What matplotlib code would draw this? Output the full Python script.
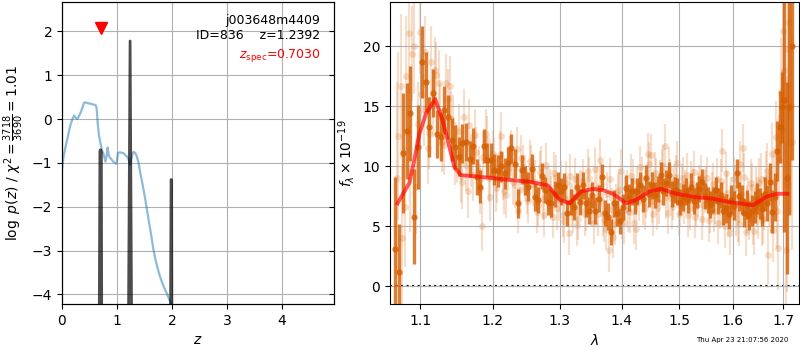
import numpy as np
import matplotlib
matplotlib.use("Agg")
import matplotlib.pyplot as plt
from matplotlib.ticker import NullLocator, NullFormatter

# --- redshift fit: coarse log p(z) curve ---
z_coarse = [0.00, 0.03, 0.07, 0.11, 0.15, 0.19, 0.22, 0.25, 0.28, 0.31, 0.34, 0.37,
            0.40, 0.43, 0.47, 0.52, 0.57, 0.61, 0.63, 0.65, 0.67, 0.70, 0.73, 0.76,
            0.79, 0.81, 0.83, 0.85, 0.87, 0.90, 0.93, 0.96, 0.99, 1.02, 1.05, 1.09,
            1.12, 1.15, 1.18, 1.21, 1.24, 1.27, 1.30, 1.33, 1.36, 1.39, 1.42, 1.46,
            1.50, 1.54, 1.58, 1.62, 1.66, 1.70, 1.74, 1.78, 1.82, 1.86, 1.90, 1.94,
            1.98, 2.00]
logpz_coarse = [-1.15, -0.85, -0.60, -0.38, -0.15, 0.00, 0.08, 0.03, 0.00, 0.07, 0.15, 0.25,
                0.37, 0.38, 0.36, 0.35, 0.33, 0.32, 0.25, -0.10, -0.35, -0.55, -0.72, -0.82,
                -0.97, -0.85, -0.65, -0.82, -0.88, -0.92, -0.97, -1.00, -1.02, -0.78, -0.76, -0.77,
                -0.78, -0.82, -0.85, -0.92, -1.05, -0.85, -0.75, -0.77, -0.85, -0.98, -1.20, -1.45,
                -1.72, -2.02, -2.33, -2.62, -2.95, -3.20, -3.40, -3.58, -3.72, -3.85, -3.96, -4.08,
                -4.20, -4.30]

# fine-grid refinement around the peaks
z_fine = [0.665, 0.690, 0.703, 0.716, 0.730, 1.190, 1.2392, 1.285,
          1.960, 1.985, 1.995, 2.005]
logpz_fine = [-9.0, -0.72, -0.70, -0.75, -9.0, -9.0, 1.78, -9.0,
              -9.0, -1.38, -1.40, -9.0]

z_spec = 0.7030
z_best = 1.2392
chi2_num, chi2_den = 3718, 3690

# --- binned G141 spectrum ---
wave_bin = np.arange(131) * 0.005 + 1.067
flux_bin = [3.1, 1.2, 11.1, 12.9, 14.4, 5.8, 11.6, 18.7, 17.0, 13.3,
            16.1, 12.7, 12.4, 14.7, 14.1, 12.2, 11.6, 10.8, 11.9, 12.0,
            10.6, 11.7, 9.1, 8.3, 11.7, 10.5, 10.5, 9.7, 9.6, 10.0,
            9.4, 10.3, 11.5, 10.2, 6.9, 9.7, 8.8, 8.3, 9.8, 7.4,
            7.2, 9.2, 8.0, 7.0, 6.9, 7.7, 8.4, 7.9, 8.3, 6.1,
            7.0, 6.6, 8.3, 7.0, 8.4, 6.9, 6.3, 7.6, 6.3, 7.3,
            9.1, 6.1, 5.8, 4.5, 6.9, 6.1, 5.4, 6.6, 8.2, 7.4,
            7.9, 7.1, 7.9, 8.4, 7.3, 9.0, 7.7, 8.4, 7.6, 8.1,
            9.25, 7.9, 8.6, 9.25, 7.7, 8.0, 7.9, 7.0, 7.4, 7.9,
            7.2, 8.3, 7.1, 7.6, 8.1, 8.7, 7.5, 7.2, 6.8, 7.2,
            8.0, 7.1, 7.6, 6.3, 6.5, 6.0, 7.2, 6.7, 9.4, 7.5,
            7.2, 6.1, 6.8, 5.9, 6.3, 6.6, 7.3, 6.9, 6.4, 7.7,
            6.9, 8.7, 6.2, 7.4, 11.3, 13.3, 14.9, 15.5, 9.0, 14.9,
            20.0]
err_bin = [6.0, 4.0, 5.0, 4.0, 4.0, 4.0, 3.5, 3.0, 2.5, 2.5,
           2.0, 2.0, 2.0, 2.0, 1.8, 1.8, 1.8, 1.6, 1.6, 1.6,
           1.5, 1.5, 1.5, 1.4, 1.4, 1.4, 1.4, 1.3, 1.3, 1.3,
           1.3, 1.3, 1.2, 1.2, 1.2, 1.2, 1.2, 1.2, 1.2, 1.1,
           1.1, 1.1, 1.1, 1.1, 1.1, 1.1, 1.1, 1.1, 1.1, 1.1,
           1.1, 1.1, 1.1, 1.1, 1.1, 1.1, 1.1, 1.1, 1.1, 1.1,
           1.1, 1.1, 1.1, 1.1, 1.1, 1.1, 1.1, 1.1, 1.1, 1.1,
           1.1, 1.1, 1.1, 1.1, 1.1, 1.1, 1.1, 1.1, 1.1, 1.1,
           1.1, 1.1, 1.1, 1.1, 1.1, 1.1, 1.1, 1.1, 1.1, 1.1,
           1.1, 1.1, 1.1, 1.1, 1.1, 1.1, 1.1, 1.1, 1.1, 1.1,
           1.1, 1.1, 1.1, 1.2, 1.2, 1.2, 1.2, 1.2, 1.2, 1.2,
           1.2, 1.2, 1.2, 1.2, 1.3, 1.3, 1.3, 1.3, 1.4, 1.4,
           1.5, 1.6, 1.8, 2.0, 2.5, 3.0, 3.0, 11.0, 8.0, 9.0,
           9.5]

# --- unbinned pixels (lighter), two exposures ---
wave_pix = np.arange(130) * 0.005 + 1.0695
flux_pix = [9.0, 16.7, 6.6, 21.1, 19.4, 8.3, 21.2, 14.7, 11.5, 18.7,
            18.0, 16.9, 12.0, 16.9, 16.7, 13.5, 11.0, 9.2, 14.1, 7.9,
            10.5, 12.6, 9.6, 5.0, 12.7, 9.0, 11.0, 8.2, 10.9, 9.2,
            7.6, 10.6, 8.7, 11.4, 8.0, 9.9, 7.8, 10.4, 8.5, 6.2,
            9.5, 7.3, 10.1, 8.0, 5.8, 9.1, 7.2, 5.9, 8.6, 4.4,
            6.8, 8.9, 5.6, 7.8, 6.0, 9.6, 6.7, 5.3, 8.2, 10.5,
            6.0, 4.8, 3.0, 6.4, 5.2, 7.6, 9.6, 5.3, 7.9, 6.2,
            8.8, 4.8, 7.2, 9.0, 6.5, 11.0, 10.9, 6.0, 8.9, 7.0,
            9.6, 11.7, 6.1, 8.8, 7.3, 9.1, 6.0, 8.4, 7.0, 9.3,
            6.5, 8.0, 5.8, 7.6, 9.1, 6.8, 8.2, 5.5, 7.7, 6.3,
            8.9, 6.6, 11.3, 5.0, 7.8, 4.4, 6.4, 8.2, 5.6, 10.2,
            11.5, 4.5, 7.0, 8.6, 5.4, 7.9, 6.0, 8.9, 5.7, 9.0,
            2.6, 6.9, 4.7, 12.4, 3.2, 16.2, 21.3, 3.0, 19.8, 15.0]
err_pix = [8.0, 6.0, 5.0, 5.0, 4.0, 4.0, 3.5, 3.0, 3.0, 3.0,
           2.8, 2.8, 2.5, 2.5, 2.5, 2.4, 2.4, 2.3, 2.3, 2.2,
           2.2, 2.2, 2.1, 2.1, 2.1, 2.0, 2.0, 2.0, 2.0, 2.0,
           1.9, 1.9, 1.9, 1.9, 1.9, 1.9, 1.8, 1.8, 1.8, 1.8,
           1.8, 1.8, 1.8, 1.8, 1.8, 1.8, 1.8, 1.8, 1.8, 1.8,
           1.8, 1.8, 1.8, 1.8, 1.8, 1.8, 1.8, 1.8, 1.8, 1.8,
           1.8, 1.8, 1.8, 1.8, 1.8, 1.8, 1.8, 1.8, 1.8, 1.8,
           1.8, 1.8, 1.8, 1.8, 1.8, 1.8, 1.8, 1.8, 1.8, 1.8,
           1.8, 1.8, 1.8, 1.8, 1.8, 1.8, 1.8, 1.8, 1.8, 1.8,
           1.8, 1.8, 1.8, 1.8, 1.8, 1.8, 1.8, 1.8, 1.8, 1.8,
           1.8, 1.8, 1.8, 1.8, 1.8, 1.8, 1.9, 1.9, 1.9, 1.9,
           2.0, 2.0, 2.0, 2.0, 2.0, 2.1, 2.1, 2.2, 2.2, 2.3,
           2.4, 2.5, 2.7, 3.0, 3.5, 4.5, 6.0, 9.0, 8.0, 9.0]

wave_pix2 = np.arange(130) * 0.005 + 1.0715
flux_pix2 = [12.5, 4.0, 17.5, 9.5, 20.0, 13.5, 16.0, 19.5, 12.8, 15.2,
             17.6, 14.3, 11.8, 15.6, 13.9, 10.8, 12.9, 8.7, 10.1, 13.4,
             9.3, 11.2, 8.1, 10.8, 12.2, 7.4, 10.4, 8.9, 12.5, 7.9,
             9.8, 11.1, 8.4, 6.3, 10.7, 9.0, 7.1, 10.0, 8.7, 6.8,
             9.9, 5.9, 8.1, 7.4, 9.4, 6.5, 8.6, 5.4, 7.3, 9.2,
             6.2, 5.1, 7.9, 8.8, 6.4, 9.0, 7.0, 9.8, 6.0, 8.5,
             5.5, 7.7, 8.9, 4.1, 6.7, 8.0, 5.7, 7.3, 6.3, 9.2,
             5.3, 8.1, 9.9, 6.9, 7.5, 10.2, 7.1, 9.4, 6.5, 8.7,
             10.0, 7.4, 9.8, 6.6, 8.4, 10.3, 6.8, 9.0, 7.9, 5.9,
             8.6, 9.5, 6.7, 8.3, 5.6, 7.9, 9.0, 6.2, 8.5, 7.0,
             5.3, 8.8, 6.9, 9.4, 5.9, 7.3, 8.9, 6.1, 5.2, 7.7,
             9.1, 6.4, 5.8, 8.3, 4.6, 7.0, 8.6, 5.5, 6.9, 9.6,
             7.4, 11.0, 8.7, 6.3, 10.5, 13.0, 18.0, 8.5, 22.0, 12.0]
err_pix2 = [7.0, 6.0, 5.0, 5.0, 4.0, 3.5, 3.2, 3.0, 3.0, 2.8,
            2.8, 2.6, 2.5, 2.5, 2.4, 2.4, 2.3, 2.3, 2.2, 2.2,
            2.2, 2.1, 2.1, 2.1, 2.0, 2.0, 2.0, 2.0, 2.0, 1.9,
            1.9, 1.9, 1.9, 1.9, 1.9, 1.9, 1.8, 1.8, 1.8, 1.8,
            1.8, 1.8, 1.8, 1.8, 1.8, 1.8, 1.8, 1.8, 1.8, 1.8,
            1.8, 1.8, 1.8, 1.8, 1.8, 1.8, 1.8, 1.8, 1.8, 1.8,
            1.8, 1.8, 1.8, 1.8, 1.8, 1.8, 1.8, 1.8, 1.8, 1.8,
            1.8, 1.8, 1.8, 1.8, 1.8, 1.8, 1.8, 1.8, 1.8, 1.8,
            1.8, 1.8, 1.8, 1.8, 1.8, 1.8, 1.8, 1.8, 1.8, 1.8,
            1.8, 1.8, 1.8, 1.8, 1.8, 1.8, 1.8, 1.8, 1.8, 1.8,
            1.8, 1.8, 1.8, 1.8, 1.8, 1.8, 1.9, 1.9, 1.9, 1.9,
            2.0, 2.0, 2.0, 2.0, 2.0, 2.1, 2.1, 2.2, 2.2, 2.3,
            2.4, 2.6, 2.8, 3.2, 3.8, 5.0, 7.0, 9.0, 8.0, 9.0]

# --- best-fit template ---
wave_model = [1.0704, 1.0856, 1.0920, 1.0987, 1.1076, 1.1198, 1.1298, 1.1390,
              1.1459, 1.1550, 1.1713, 1.1998, 1.2339, 1.2538, 1.2816, 1.2998,
              1.3154, 1.3340, 1.3527, 1.3690, 1.3857, 1.4080, 1.4250, 1.4480,
              1.4685, 1.4950, 1.5316, 1.5624, 1.5940, 1.6390, 1.6660, 1.6860,
              1.7080]
flux_model = [6.9, 8.6, 10.5, 12.7, 14.4, 15.6, 13.8, 11.6,
              9.9, 9.25, 9.17, 9.0, 8.8, 8.7, 8.4, 7.2,
              6.9, 7.9, 8.1, 8.0, 7.7, 6.9, 7.2, 7.9,
              8.1, 7.7, 7.4, 7.3, 7.0, 6.75, 7.45, 7.7,
              7.7]

grism_color = (0.8352941176470589, 0.3686274509803922, 0.0)

fig = plt.figure(figsize=(8, 3.5), dpi=100)

# ===== left: p(z) =====
ax1 = fig.add_axes([0.0775, 0.1314, 0.34, 0.8629])
ax1.plot(z_coarse, logpz_coarse, color='#1f77b4', alpha=0.5, lw=1.6)
ax1.plot(z_fine, logpz_fine, color='k', alpha=0.7, lw=2)
ax1.plot(z_spec, 2.07, marker='v', color='r', ms=8)
ax1.set_xlim(0, 4.95)
ax1.set_ylim(-4.22, 2.67)
ax1.set_xticks([0, 1, 2, 3, 4])
ax1.set_yticks([-4, -3, -2, -1, 0, 1, 2])
ax1.grid()
ax1.set_xlabel(r'$z$')
ax1.set_ylabel(r'$\log\ p(z)$' + ' / ' +
               r'$\chi^2=\frac{%d}{%d}=%.2f$' % (chi2_num, chi2_den, chi2_num / chi2_den))
ax1.text(0.95, 0.96, 'j003648m4409\nID=836    z={0:.4f}'.format(z_best),
         ha='right', va='top', transform=ax1.transAxes, fontsize=9)
ax1.text(0.95, 0.852, r'$z_\mathrm{spec}$' + '={0:.4f}'.format(z_spec),
         ha='right', va='top', transform=ax1.transAxes, fontsize=9, color='r')

# inward ticks on the right edge
ax1r = ax1.twinx()
ax1r.set_ylim(ax1.get_ylim())
ax1r.set_yticks([-4, -3, -2, -1, 0, 1, 2])
ax1r.tick_params(axis='y', direction='in', labelright=False)

# ===== right: spectrum =====
ax2 = fig.add_axes([0.4875, 0.1314, 0.511, 0.8629])
for w, f, e in [(wave_pix, flux_pix, err_pix), (wave_pix2, flux_pix2, err_pix2)]:
    ax2.errorbar(w, f, yerr=e, fmt='o', color=grism_color, alpha=0.2,
                 ms=5, elinewidth=1.6, capsize=0, mew=0, zorder=1)
ax2.errorbar(wave_bin, flux_bin, yerr=err_bin, fmt='o', color=grism_color,
             alpha=0.8, ms=4.5, elinewidth=2.4, capsize=0, mew=0, zorder=2)
ax2.plot(wave_model, flux_model, color='r', alpha=0.65, lw=2.8, zorder=3)
ax2.axhline(0, color='k', ls=':', lw=1.5, zorder=0)

ax2.set_xscale('log')
ax2.set_xlim(1.0607, 1.7315)
ax2.set_ylim(-1.5, 23.7)
ax2.set_xticks([1.1, 1.2, 1.3, 1.4, 1.5, 1.6, 1.7])
ax2.set_xticklabels(['1.1', '1.2', '1.3', '1.4', '1.5', '1.6', '1.7'])
ax2.xaxis.set_minor_locator(NullLocator())
ax2.xaxis.set_minor_formatter(NullFormatter())
ax2.set_yticks([0, 5, 10, 15, 20])
ax2.grid()
ax2.set_xlabel(r'$\lambda$')
ax2.set_ylabel(r'$f_\lambda \times 10^{-19}$')

fig.text(0.985, 0.028, 'Thu Apr 23 21:07:56 2020', ha='right', va='center', fontsize=5)

fig.savefig('out.png', dpi=100)
